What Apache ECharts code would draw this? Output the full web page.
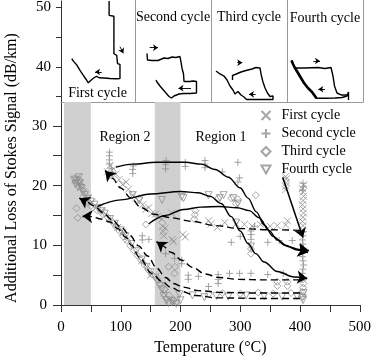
<!DOCTYPE html>
<html><head><meta charset="utf-8">
<script src="https://cdn.jsdelivr.net/npm/echarts@6/dist/echarts.min.js"></script>
<style>html,body{margin:0;padding:0;background:#fff}#c{width:374px;height:361px}</style>
</head><body><div id="c"></div>
<script>
const FONT = 'Liberation Serif';
const xTicks = [0,50,100,150,200,250,300,350,400,450,500];
const xLabels = [0,100,200,300,400,500];
const yTicks = [0,5,10,15,20,25,30];
const yLabels = [0,10,20,30];
const insetTicks = [35,40,45,50];
const insetLabels = [40,50];
const regionBands = [[5,50],[157,200]];
const cycleNames = ['First cycle','Second cycle','Third cycle','Fourth cycle'];
const insetTitles = ['First cycle','Second cycle','Third cycle','Fourth cycle'];

// scatter data [temperature, loss]
const firstCycle = [
[24,20.9],[27,21.3],[30,20.3],[33,19.7],[38,18.8],[45,17.9],[52,17.2],[60,16.4],[68,15.8],
[78,22.3],[82,23.4],[85,21.6],[88,22.8],[92,21.9],[97,21.0],[103,20.2],[109,20.6],[113,19.4],[120,18.4],[125,17.9],[131,17.4],[137,16.8],[142,16.0],[147,16.3],[152,15.3],[158,15.2],[162,14.8],
[169,14.4],[170,13.2],[171,12.3],[172,11.6],[174,12.9],[185,15.4],[186,11.0],[188,10.6],[204,11.8],[208,11.4],
[247,14.1],[251,13.6],[262,13.0],[274,13.8],[293,13.6],[307,13.5],[320,13.2],[334,13.5],[350,13.2],[362,13.3],[376,13.4],[379,14.1],
[376,19.3],[376,19.9],[377,20.5],[377,21.1],[376,21.5],
[404,12.6],[405,13.3],[404,14.0],[405,14.7],[406,15.4],[405,16.1],[404,16.8],[405,17.5],[406,18.2],[405,18.9],[404,19.5],[406,20.1],
[95,13.0],[104,12.2],[112,11.0],[135,7.4],[150,5.0],[172,2.0],[182,0.8],[190,0.4]
];
const secondCycle = [
[81,23.6],[81,24.3],[81,25.0],[81,25.6],[84,22.9],[86,22.2],
[120,22.0],[120,22.7],[121,23.3],[175,22.8],[175,23.5],[176,24.2],[208,23.2],[208,23.9],[241,23.0],[241,23.6],[241,24.2],[270,22.3],[296,23.9],[296,20.6],[299,21.3],
[136,10.9],[136,11.6],[147,11.0],[175,8.6],[190,7.8],[202,6.9],[202,7.5],[213,4.3],[213,5.0],[230,4.8],[247,3.1],[263,3.6],[263,4.3],[263,5.1],[282,5.3],[299,5.3],[318,5.3],[346,5.1],[372,5.3],
[285,10.5],[300,11.5],[318,11.0],[318,11.8],[318,12.4],[346,10.5],[365,10.8],[387,10.8],[324,13.2],
[405,4.6],[404,5.3],[405,6.0],[406,6.7],[405,7.4],[404,8.1],[405,8.8],[406,9.5],[405,10.2],[404,10.9],[405,11.6],[406,12.3],
[404,19.2],[406,19.8],[405,20.4]
];
const thirdCycle = [
[26,16.2],[28,14.6],[30,21.0],[34,20.0],[40,17.2],[50,16.6],[60,15.9],[70,15.2],[78,14.7],[86,13.9],[92,13.1],[98,12.4],[104,11.5],[110,10.8],[116,9.9],[122,9.1],[128,8.3],[134,7.5],[140,6.7],[146,5.9],[152,5.1],[160,4.4],[167,3.5],[174,2.6],[181,1.6],[188,0.9],
[142,13.5],[180,6.4],[190,5.3],[191,6.4],[223,14.4],[224,15.1],[225,15.8],[263,17.9],[285,17.9],[293,17.0],[296,17.7],[326,18.4],[318,8.6],[318,9.4],
[362,3.2],[362,3.9],[379,3.2],[379,3.9],[247,1.8],[270,2.0],[300,1.9],[330,2.1],[355,1.9],[385,2.0],
[405,1.5],[404,2.2],[405,2.9],[406,3.6],[405,4.3]
];
const fourthCycle = [
[22,21.0],[24,20.3],[26,20.8],[28,19.8],[30,21.4],[32,20.4],[34,19.6],[36,19.0],[40,18.4],[45,17.8],[50,17.3],[56,16.8],[62,16.2],[68,15.7],[73,15.3],
[82,14.4],[90,13.6],[100,12.5],[108,11.5],[118,10.2],[126,9.0],[135,7.6],[143,6.4],[150,5.5],[158,4.6],[165,3.2],[169,2.6],[172,1.5],[176,0.8],[180,0.3],[186,0.6],[193,0.2],[200,0.8],[198,1.8],
[120,18.4],[131,17.5],[169,17.6],[202,18.1],[205,17.9],[247,18.4],[266,17.9],[272,18.4],[288,17.9],[296,17.0],[293,13.8],[318,9.8],
[220,1.6],[240,1.3],[260,1.5],[280,1.4],[310,1.6],[340,1.5],[370,1.4],[395,1.5],
[405,0.8],[404,1.2],[406,2.0]
];

// trend curves (heating = solid, cooling = dashed), listed in direction of travel
const heat1 = [[92,23.1],[120,23.6],[160,23.9],[208,23.9],[235,23.6],[258,22.7],[280,21.4],[300,19.6],[313,17.9],[327,15.6],[340,13.4],[355,11.5],[375,10.0],[395,9.2],[413,8.8]];
const heat2 = [[61,16.5],[100,17.6],[150,18.6],[200,19.0],[230,18.8],[250,18.2],[268,17.0],[285,14.8],[300,12.4],[313,10.3],[326,8.6],[340,7.2],[362,5.6],[390,4.7],[412,4.5]];
const heat3 = [[147,13.6],[175,15.0],[205,16.0],[235,16.4],[265,16.5],[295,16.3],[315,15.8],[332,14.6],[348,12.5],[362,10.9],[380,9.8],[398,9.3],[415,9.1]];
const drop = [[371,21.4],[405,11.3]];
const cool1 = [[400,12.5],[350,12.6],[300,12.8],[258,13.3],[220,14.0],[185,14.6],[156,15.2],[134,16.3],[117,17.9],[100,19.6],[86,21.2],[74,22.5]];
const cool2 = [[400,1.1],[330,1.1],[260,1.2],[225,1.6],[200,2.3],[185,2.9],[168,4.0],[152,5.3],[131,8.0],[118,10.0],[108,11.4],[95,12.8],[82,13.9],[67,14.4],[52,14.8],[36,14.9]];
const cool3 = [[400,2.0],[330,2.0],[270,2.1],[230,2.4],[205,3.0],[188,3.6],[175,4.6],[160,6.2],[145,8.2],[130,9.9],[115,11.7],[100,13.1],[85,14.3],[70,15.5],[55,16.6],[42,17.3],[31,17.9]];
const cool4 = [[400,4.2],[340,4.2],[296,4.3],[265,4.6],[241,5.2],[220,6.3],[202,7.5],[185,8.8],[170,9.9],[160,10.6]];

// inset traces (x: relative position 0-100 in panel, y: signal)
const inset1 = [[14.5,41.38],[17.6,40.85],[21.6,40.27],[25.7,39.43],[29.7,38.68],[33.8,37.93],[36.9,37.32],[40.5,37.77],[44.6,38.18],[48.2,38.43],[51.4,38.18],[58.1,38.13],[66.2,38.05],[74.3,38.02],[79.7,38.05],[79.7,40.43],[76.4,40.55],[75.3,41.93],[71.5,42.22],[71.5,48.52],[65,48.68],[65,51.1]];
const inset2 = [[15.8,42.18],[16.4,41.1],[22.4,41.02],[30.3,41.02],[32.9,41.27],[38.2,41.43],[43.4,41.35],[48.7,41.6],[53.9,41.52],[59.2,41.68],[60.5,40.77],[61.8,39.77],[63.8,38.77],[64.5,37.52],[72.4,37.52],[76.3,37.6],[80.9,37.52],[80.9,35.6],[72.4,35.52],[63.8,35.52],[57.9,35.43],[51.3,35.1],[48.0,34.77],[44.7,35.02],[40.8,35.6],[36.8,36.18],[32.9,36.77],[28.9,37.43],[27.6,37.77]];
const inset3 = [[6.6,39.27],[11.8,38.77],[17.1,38.43],[21.1,37.77],[25.0,36.77],[28.9,36.1],[31.6,35.43],[35.5,35.85],[39.5,35.27],[43.4,34.93],[46.7,34.52],[57.9,34.52],[71.1,34.52],[81.6,34.52],[81.6,35.1],[77.6,35.02],[74.3,35.6],[71.1,36.43],[68.4,37.43],[65.8,38.77],[64.5,39.77],[59.2,39.85],[53.9,39.6],[46.1,39.35],[39.5,39.1],[31.6,38.68],[28.3,38.52],[28.3,37.77]];
const inset4a = [[5.9,41.02],[7.9,40.43],[10.5,39.77],[14.5,38.93],[18.4,38.1],[22.4,37.27],[27.6,36.43],[32.9,35.77],[38.8,34.72],[50.0,34.72],[63.2,34.77],[72.4,34.85],[78.9,35.1],[80.9,35.77],[80.9,34.43]];
const inset4b = [[9.2,39.77],[23.7,39.77],[40.8,39.85],[50,39.68],[57.9,39.85],[60.5,38.43],[62.5,36.77],[65.8,35.6],[71.1,35.27],[78.9,35.27]];
const insetArrows = [
  [[[79.7,43.4],[84.2,42.3]], [[55,39.15],[46,39.15]]],
  [[[19.3,43.15],[30.3,43.15]], [[73.7,36.4],[57.2,36.4]]],
  [[[34.6,40.65],[41.2,40.65]], [[58.8,35.38],[50,35.38]]],
  [[[34.6,40.93],[43.4,40.93]], [[50,36.22],[41.2,36.22]]]
];

const gray = '#8e8e8e';
const symbols = [
  'path://M0,0L10,10M10,0L0,10',
  'path://M5,0L5,10M0,5L10,5',
  'path://M5,0L10,5L5,10L0,5Z',
  'path://M0,0L10,0L5,9Z'
];
const cycles = [firstCycle, secondCycle, thirdCycle, fourthCycle];

const insetLeft = [61,135,211,287];
const insetWidth = [74,76,76,76];

const grids = [{left:61, top:102, width:302, height:207}];
insetLeft.forEach((l,i)=>grids.push({left:l, top:0, width:insetWidth[i], height:102}));

const axisColor = '#333';
const xAxes = [{
  gridIndex:0, type:'value', min:0, max:500,
  axisLine:{show:true, onZero:false, lineStyle:{color:axisColor}},
  axisTick:{show:true, customValues:xTicks, length:7, lineStyle:{color:axisColor}},
  axisLabel:{customValues:xLabels, margin:15, fontFamily:FONT, fontSize:15, color:'#000'},
  splitLine:{show:false},
  name:'Temperature (°C)', nameLocation:'middle', nameGap:35,
  nameTextStyle:{fontFamily:FONT, fontSize:16, color:'#000'}
}];
const yAxes = [{
  gridIndex:0, type:'value', min:0, max:34,
  axisLine:{show:true, onZero:false, lineStyle:{color:axisColor}},
  axisTick:{show:true, customValues:yTicks, length:8, lineStyle:{color:axisColor}},
  axisLabel:{customValues:yLabels, margin:14, fontFamily:FONT, fontSize:15, color:'#000'},
  splitLine:{show:false}
}];
insetLeft.forEach((l,i)=>{
  xAxes.push({gridIndex:i+1, type:'value', min:0, max:100,
    axisLine:{show:true, onZero:false, lineStyle:{color:'#999'}},
    axisTick:{show:false}, axisLabel:{show:false}, splitLine:{show:false}});
  yAxes.push({gridIndex:i+1, type:'value', min:34.1, max:51.1,
    axisLine:{show:true, onZero:false, lineStyle:{color: i===0 ? axisColor : '#999'}},
    axisTick:{show:i===0, customValues:insetTicks, length:5, lineStyle:{color:axisColor}},
    axisLabel:{show:i===0, customValues:insetLabels, margin:10, fontFamily:FONT, fontSize:15, color:'#000'},
    splitLine:{show:false}});
});
yAxes.push({gridIndex:4, type:'value', position:'right', min:34.1, max:51.1,
  axisLine:{show:true, onZero:false, lineStyle:{color:'#999'}},
  axisTick:{show:false}, axisLabel:{show:false}, splitLine:{show:false}});

const series = [];
cycles.forEach((d,i)=>{
  series.push({type:'scatter', name:cycleNames[i], data:d, xAxisIndex:0, yAxisIndex:0,
    symbol:symbols[i], symbolSize:7, silent:true, z:2,
    itemStyle:{color:'none', borderColor:gray, borderWidth:1}});
});
// shaded regions
series.push({type:'line', data:[], xAxisIndex:0, yAxisIndex:0, silent:true,
  markArea:{silent:true, itemStyle:{color:'#d0d0d0'},
    data: regionBands.map(b=>[{xAxis:b[0]},{xAxis:b[1]}])}});

function curve(data, dashed){
  return {type:'line', data:data, xAxisIndex:0, yAxisIndex:0, smooth:0.35, smoothMonotone:'x',
    symbol:'none', silent:true, z:4,
    lineStyle:{color:'#000', width:1.4, type: dashed ? [7,4] : 'solid'}};
}
function arrowHead(data, size){
  const n = data.length, a = data[n-2], b = data[n-1];
  const s = [b[0] + (a[0]-b[0])*0.2, b[1] + (a[1]-b[1])*0.2];
  return {type:'lines', coordinateSystem:'cartesian2d', xAxisIndex:0, yAxisIndex:0, silent:true, z:5,
    data:[{coords:[s, b]}], symbol:['none','arrow'], symbolSize:size || 10,
    lineStyle:{color:'#000', width:1.4, opacity:1}};
}
[heat1, heat2, heat3].forEach(c=>{ series.push(curve(c,false)); series.push(arrowHead(c)); });
series.push({type:'lines', coordinateSystem:'cartesian2d', xAxisIndex:0, yAxisIndex:0, silent:true, z:5,
  data:[{coords:drop}], symbol:['none','arrow'], symbolSize:9, lineStyle:{color:'#000', width:1.5, opacity:1}});
[cool1, cool2, cool3, cool4].forEach(c=>{ series.push(curve(c,true)); series.push(arrowHead(c)); });

// insets
const insetData = [[inset1],[inset2],[inset3],[inset4a, inset4b, inset4a.slice(0,9)]];
insetData.forEach((list,i)=>{
  list.forEach((d,k)=>{
    series.push({type:'line', data:d, xAxisIndex:i+1, yAxisIndex:i+1, symbol:'none', silent:true,
      clip:false, lineStyle:{color:'#000', width:(i===3 && k===2) ? 2.6 : 1.4}});
  });
  series.push({type:'lines', coordinateSystem:'cartesian2d', xAxisIndex:i+1, yAxisIndex:i+1, silent:true,
    data: insetArrows[i].map(c=>({coords:c})), symbol:['none','arrow'], symbolSize:5,
    lineStyle:{color:'#000', width:0.9, opacity:1}});
});

const txt = (x,y,t,size,extra)=>Object.assign({type:'text', x:x, y:y, silent:true,
  style:{text:t, fontFamily:FONT, fontSize:size, fill:'#000', align:'center', verticalAlign:'middle'}}, extra||{});

const chart = echarts.init(document.getElementById('c'), null, {renderer:'canvas'});
chart.setOption({
  backgroundColor:'#fff',
  animation:false,
  grid: grids,
  xAxis: xAxes,
  yAxis: yAxes,
  legend:{data:cycleNames, orient:'vertical', left:254, top:103, itemWidth:9, itemHeight:9, itemGap:3,
    selectedMode:false,
    textStyle:{fontFamily:FONT, fontSize:14, color:'#000', lineHeight:15, padding:[0,0,0,6]}},
  series: series,
  graphic: [
    txt(12, 168, 'Additional Loss of Stokes Signal (dB/km)', 16, {rotation:Math.PI/2}),
    txt(125, 137, 'Region 2', 14),
    txt(221, 137, 'Region 1', 14),
    txt(97.5, 93, insetTitles[0], 14),
    txt(173, 17, insetTitles[1], 14),
    txt(249, 17, insetTitles[2], 14),
    txt(325, 18, insetTitles[3], 14)
  ]
});
</script></body></html>
